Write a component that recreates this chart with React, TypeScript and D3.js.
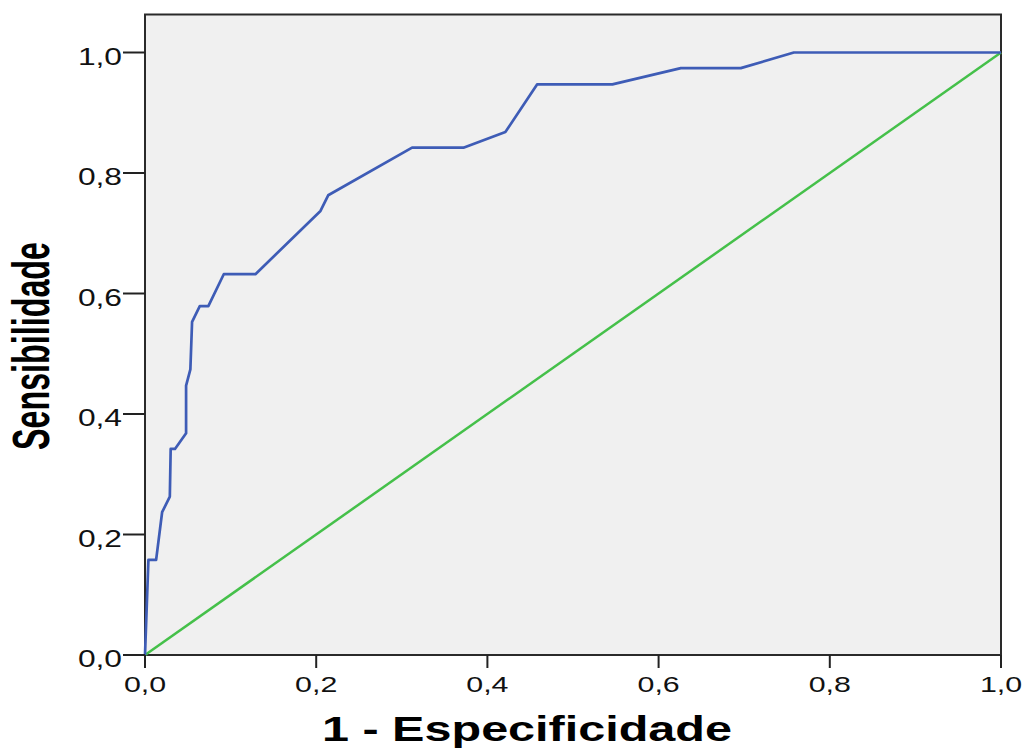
import React from "react";
import * as d3 from "d3";

// ROC curve points
const fpr = [0, 0.004, 0.013, 0.02, 0.029, 0.03, 0.035, 0.048, 0.048, 0.053, 0.055, 0.064, 0.074, 0.092, 0.129, 0.205, 0.214, 0.312, 0.372, 0.421, 0.458, 0.546, 0.626, 0.696, 0.758, 1.0];
const tpr = [0, 0.158, 0.158, 0.237, 0.263, 0.342, 0.342, 0.368, 0.447, 0.474, 0.553, 0.579, 0.579, 0.632, 0.632, 0.737, 0.763, 0.842, 0.842, 0.868, 0.947, 0.947, 0.974, 0.974, 1.0, 1.0];
const refLine = [0, 1];
const ticks = [0, 0.2, 0.4, 0.6, 0.8, 1.0];
const tickLabels = ["0,0", "0,2", "0,4", "0,6", "0,8", "1,0"];

const App = () => {
  const width = 1022;
  const height = 751;
  const left = 145;
  const right = 1001;
  const top = 14.5;
  const bottom = 655;

  const x = d3.scaleLinear().domain([0, 1]).range([left, right]);
  const y = d3.scaleLinear().domain([0, 1]).range([bottom, 52.5]);

  const line = d3
    .line<number>()
    .x((_, i) => x(fpr[i]))
    .y((_, i) => y(tpr[i]));

  const diag = d3
    .line<number>()
    .x((d) => x(d))
    .y((d) => y(d));

  const font = "'Liberation Sans', Arial, sans-serif";

  return (
    <svg
      width={width}
      height={height}
      style={{ position: "absolute", left: 0, top: 0, background: "#fff" }}
    >
      <rect
        x={left}
        y={top}
        width={right - left}
        height={bottom - top}
        fill="#f0f0f0"
        stroke="#2a2a2a"
        strokeWidth={2}
      />
      <path d={diag(refLine) || ""} fill="none" stroke="#45c04a" strokeWidth={2.5} />
      <path d={line(fpr) || ""} fill="none" stroke="#3e5cb6" strokeWidth={2.7} strokeLinejoin="round" />

      {ticks.map((t, i) => (
        <g key={"y" + i}>
          <line x1={123} x2={left} y1={y(t)} y2={y(t)} stroke="#222" strokeWidth={2} />
          <text
            transform={`translate(122,${y(t) + 12}) scale(1.38,1)`}
            textAnchor="end"
            fontSize={23}
            fontFamily={font}
            fill="#111"
          >
            {tickLabels[i]}
          </text>
        </g>
      ))}

      {ticks.map((t, i) => (
        <g key={"x" + i}>
          <line x1={x(t)} x2={x(t)} y1={bottom} y2={668} stroke="#222" strokeWidth={2} />
          <text
            transform={`translate(${x(t)},692) scale(1.38,1)`}
            textAnchor="middle"
            fontSize={22}
            fontFamily={font}
            fill="#111"
          >
            {tickLabels[i]}
          </text>
        </g>
      ))}

      <text
        x={527}
        y={741}
        textAnchor="middle"
        fontSize={35}
        fontWeight="bold"
        fontFamily={font}
        textLength={410}
        lengthAdjust="spacingAndGlyphs"
        fill="#000"
      >
        1 - Especificidade
      </text>

      <text
        transform="translate(49,346) rotate(-90) scale(1,1.6)"
        textAnchor="middle"
        fontSize={32}
        fontWeight="bold"
        fontFamily={font}
        textLength={208}
        lengthAdjust="spacingAndGlyphs"
        fill="#000"
      >
        Sensibilidade
      </text>
    </svg>
  );
};

export default App;
